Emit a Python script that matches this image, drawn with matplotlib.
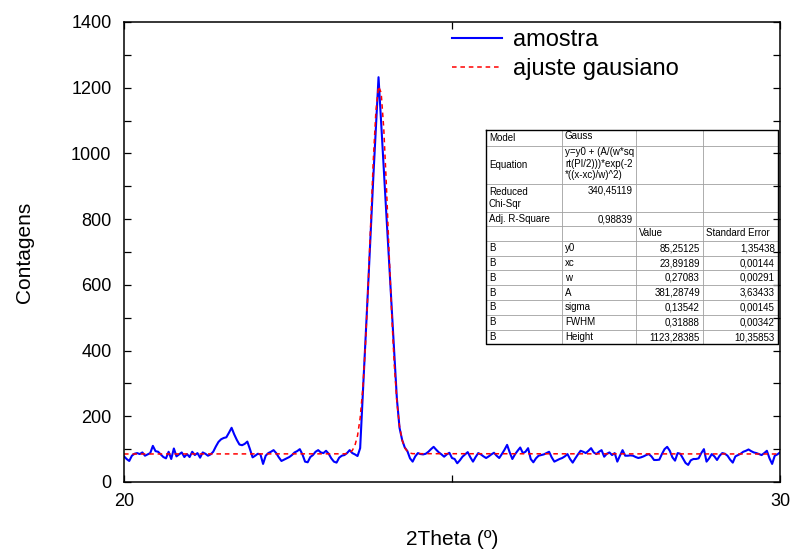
import numpy as np
import matplotlib
matplotlib.use("Agg")
import matplotlib.pyplot as plt
from matplotlib.ticker import MultipleLocator, FixedLocator

plt.rcParams['font.family'] = ['Liberation Sans', 'DejaVu Sans']

# counts, 2Theta 20..30 in 0.04 steps
counts = [
    78, 70, 64, 80, 86, 88, 85, 90, 80, 84, 88, 110, 94, 92, 84, 76, 72, 92, 70, 102, 78, 84, 90, 76, 85,
    76, 92, 82, 88, 74, 90, 86, 80, 84, 92, 108, 122, 130, 134, 136, 150, 165, 145, 128, 114, 112, 116, 123, 100, 75,
    80, 86, 84, 55, 80, 88, 92, 97, 88, 75, 64, 68, 72, 76, 82, 90, 94, 100, 84, 62, 60, 76, 82, 92, 97,
    90, 88, 95, 86, 72, 62, 59, 74, 80, 82, 88, 97, 88, 84, 79, 103, 265, 424, 590, 760, 925, 1080, 1232, 1094, 950,
    812, 674, 530, 392, 253, 165, 128, 105, 94, 72, 62, 78, 88, 85, 84, 86, 92, 100, 107, 98, 90, 84, 77, 84, 89,
    73, 70, 57, 66, 77, 84, 91, 75, 62, 76, 88, 84, 78, 73, 78, 84, 89, 80, 73, 85, 98, 113, 90, 70, 84,
    95, 105, 88, 92, 103, 70, 60, 72, 80, 82, 84, 88, 92, 75, 62, 66, 70, 73, 78, 85, 70, 59, 72, 84, 95,
    92, 88, 95, 103, 90, 85, 92, 97, 77, 86, 90, 82, 88, 62, 80, 97, 80, 80, 81, 80, 76, 73, 75, 78, 82,
    85, 78, 67, 67, 68, 85, 100, 107, 95, 75, 65, 88, 86, 72, 58, 52, 66, 70, 70, 72, 88, 100, 62, 72, 85,
    78, 67, 80, 88, 86, 80, 68, 59, 78, 82, 86, 92, 95, 99, 94, 90, 88, 85, 82, 88, 95, 72, 55, 80, 84,
    90,
]
assert len(counts) == 251
two_theta = np.linspace(20, 30, len(counts))

# gaussian fit curve (vertices)
fit_theta = [20.0, 23.36, 23.40, 23.44, 23.48, 23.52, 23.56, 23.60, 23.64, 23.68, 23.72, 23.76,
             23.80, 23.84, 23.88, 23.92, 23.96, 24.00, 24.04, 24.08, 24.12, 24.16, 24.20, 24.24,
             24.28, 24.32, 24.36, 24.40, 30.0]
fit_counts = [85.25, 85.75, 86.8, 89.5, 96, 111, 141, 195, 284, 415, 587, 784,
              978, 1129, 1204, 1185, 1075, 902, 703, 513, 357, 244, 170, 127,
              104, 93, 88, 86.2, 85.25]

table_rows = [
    ["Model", "Gauss", "", ""],
    ["Equation", "y=y0 + (A/(w*sq\nrt(PI/2)))*exp(-2\n*((x-xc)/w)^2)", "", ""],
    ["Reduced\nChi-Sqr", "340,45119", "", ""],
    ["Adj. R-Square", "0,98839", "", ""],
    ["", "", "Value", "Standard Error"],
    ["B", "y0", "85,25125", "1,35438"],
    ["B", "xc", "23,89189", "0,00144"],
    ["B", "w", "0,27083", "0,00291"],
    ["B", "A", "381,28749", "3,63433"],
    ["B", "sigma", "0,13542", "0,00145"],
    ["B", "FWHM", "0,31888", "0,00342"],
    ["B", "Height", "1123,28385", "10,35853"],
]

W, H = 793, 552
fig = plt.figure(figsize=(W / 100, H / 100), dpi=100)
ax = fig.add_axes([124 / W, (H - 482) / H, (780 - 124) / W, (482 - 22) / H])

ax.plot(two_theta, counts, color='#0000ff', lw=1.5, label='amostra')
ax.plot(fit_theta, fit_counts, color='#ff0000', lw=1.1, ls=(0, (3, 2.5)), label='ajuste gausiano')

ax.set_xlim(20, 30)
ax.set_ylim(0, 1400)
ax.xaxis.set_major_locator(FixedLocator([20, 25, 30]))
ax.set_xticklabels(['20', '', '30'])
ax.yaxis.set_major_locator(MultipleLocator(200))
ax.yaxis.set_minor_locator(MultipleLocator(100))
ax.tick_params(which='both', direction='in', top=True, right=True, length=5, width=0.9,
               labelsize=13, colors='black')
ax.tick_params(axis='y', pad=9)
ax.tick_params(axis='x', pad=8)
for s in ax.spines.values():
    s.set_linewidth(1.1)

ax.set_xlabel('2Theta (º)', fontsize=15, labelpad=14)
ax.set_ylabel('Contagens', fontsize=15, labelpad=27)

ax.legend(loc='upper left', bbox_to_anchor=(0.5, 0.985), frameon=False, fontsize=17,
          handlelength=2.1, handletextpad=0.5, labelspacing=0.32, borderpad=0, borderaxespad=0)

# fit results table
col_edges = [0, 76, 150, 217, 292]
row_h = [15.7, 38.6, 28, 13.7] + [14.8] * 8
row_edges = np.concatenate([[0], np.cumsum(row_h)])
tw, th = col_edges[-1], row_edges[-1]
tax = fig.add_axes([486 / W, (H - 130 - th) / H, tw / W, th / H])
tax.set_xlim(0, tw)
tax.set_ylim(th, 0)
tax.axis('off')
for y in row_edges[1:-1]:
    tax.plot([0, tw], [y, y], color='#a0a0a0', lw=0.6)
for x in col_edges[1:-1]:
    tax.plot([x, x], [0, th], color='#a0a0a0', lw=0.6)
tax.plot([0, tw, tw, 0, 0], [0, 0, th, th, 0], color='black', lw=1.0, clip_on=False)


def is_number(s):
    return s != '' and all(ch.isdigit() or ch == ',' for ch in s)


for r, row in enumerate(table_rows):
    for c, txt in enumerate(row):
        if not txt:
            continue
        top, bot = row_edges[r], row_edges[r + 1]
        if is_number(txt):
            x, ha = col_edges[c + 1] - 3, 'right'
        else:
            x, ha = col_edges[c] + 3, 'left'
        if r < 3 and c >= 1:
            y, va = top + 1.5, 'top'
        else:
            y, va = (top + bot) / 2, 'center'
        tax.text(x, y, txt, ha=ha, va=va, fontsize=7, linespacing=1.2)

fig.savefig('out.png', dpi=100)
